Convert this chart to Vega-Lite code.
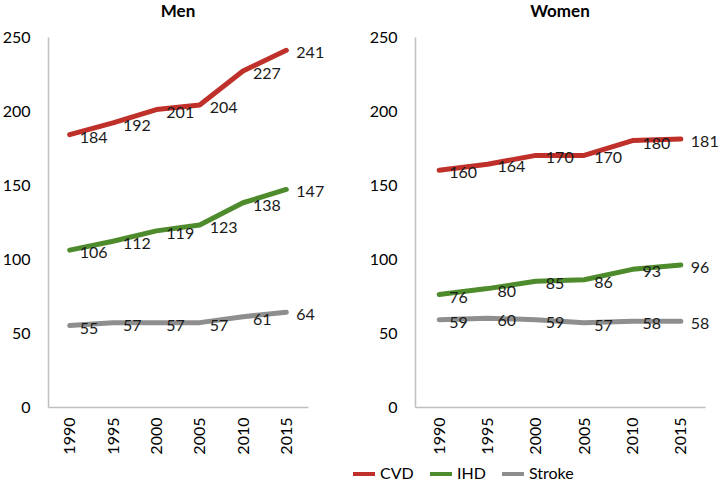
{
  "$schema": "https://vega.github.io/schema/vega-lite/v6.json",
  "padding": {"left": 2, "top": 3, "right": 0, "bottom": 0},
  "background": "white",
  "bounds": "flush",
  "datasets": {
    "rates": [
      {"sex": "Men", "year": "1990", "cause": "CVD", "value": 184},
      {"sex": "Men", "year": "1995", "cause": "CVD", "value": 192},
      {"sex": "Men", "year": "2000", "cause": "CVD", "value": 201},
      {"sex": "Men", "year": "2005", "cause": "CVD", "value": 204},
      {"sex": "Men", "year": "2010", "cause": "CVD", "value": 227},
      {"sex": "Men", "year": "2015", "cause": "CVD", "value": 241},
      {"sex": "Men", "year": "1990", "cause": "IHD", "value": 106},
      {"sex": "Men", "year": "1995", "cause": "IHD", "value": 112},
      {"sex": "Men", "year": "2000", "cause": "IHD", "value": 119},
      {"sex": "Men", "year": "2005", "cause": "IHD", "value": 123},
      {"sex": "Men", "year": "2010", "cause": "IHD", "value": 138},
      {"sex": "Men", "year": "2015", "cause": "IHD", "value": 147},
      {"sex": "Men", "year": "1990", "cause": "Stroke", "value": 55},
      {"sex": "Men", "year": "1995", "cause": "Stroke", "value": 57},
      {"sex": "Men", "year": "2000", "cause": "Stroke", "value": 57},
      {"sex": "Men", "year": "2005", "cause": "Stroke", "value": 57},
      {"sex": "Men", "year": "2010", "cause": "Stroke", "value": 61},
      {"sex": "Men", "year": "2015", "cause": "Stroke", "value": 64},
      {"sex": "Women", "year": "1990", "cause": "CVD", "value": 160},
      {"sex": "Women", "year": "1995", "cause": "CVD", "value": 164},
      {"sex": "Women", "year": "2000", "cause": "CVD", "value": 170},
      {"sex": "Women", "year": "2005", "cause": "CVD", "value": 170},
      {"sex": "Women", "year": "2010", "cause": "CVD", "value": 180},
      {"sex": "Women", "year": "2015", "cause": "CVD", "value": 181},
      {"sex": "Women", "year": "1990", "cause": "IHD", "value": 76},
      {"sex": "Women", "year": "1995", "cause": "IHD", "value": 80},
      {"sex": "Women", "year": "2000", "cause": "IHD", "value": 85},
      {"sex": "Women", "year": "2005", "cause": "IHD", "value": 86},
      {"sex": "Women", "year": "2010", "cause": "IHD", "value": 93},
      {"sex": "Women", "year": "2015", "cause": "IHD", "value": 96},
      {"sex": "Women", "year": "1990", "cause": "Stroke", "value": 59},
      {"sex": "Women", "year": "1995", "cause": "Stroke", "value": 60},
      {"sex": "Women", "year": "2000", "cause": "Stroke", "value": 59},
      {"sex": "Women", "year": "2005", "cause": "Stroke", "value": 57},
      {"sex": "Women", "year": "2010", "cause": "Stroke", "value": 58},
      {"sex": "Women", "year": "2015", "cause": "Stroke", "value": 58}
    ]
  },
  "data": {"name": "rates"},
  "spacing": 107,
  "hconcat": [
    {
      "title": {"text": "Men", "fontSize": 17, "fontWeight": "bold", "font": "Lato", "offset": 8, "color": "#000000"},
      "width": 260,
      "height": 370,
      "transform": [{"filter": "datum.sex === 'Men'"}],
      "encoding": {
        "x": {"field": "year", "type": "ordinal", "scale": {"type": "point", "padding": 0.5}, "axis": {"title": null, "labelAngle": -90}},
        "y": {"field": "value", "type": "quantitative", "scale": {"domain": [0, 250], "nice": false}, "axis": {"title": null, "values": [0, 50, 100, 150, 200, 250]}}
      },
      "layer": [
        {
          "mark": {"type": "line", "strokeWidth": 5, "strokeCap": "round", "strokeJoin": "round"},
          "encoding": {
            "color": {"field": "cause", "type": "nominal", "scale": {"domain": ["CVD", "IHD", "Stroke"], "range": ["#C0302A", "#4E8B2C", "#8E8E8E"]},
              "legend": {"title": null, "orient": "none", "direction": "horizontal", "legendX": 303, "legendY": 424, "symbolType": "stroke", "symbolStrokeWidth": 4, "symbolSize": 484, "labelFontSize": 16, "labelFont": "Lato", "labelColor": "#000000", "columnPadding": 8, "labelOffset": 3}}
          }
        },
        {
          "mark": {"type": "text", "align": "left", "baseline": "middle", "dx": 10, "dy": 3, "fontSize": 16, "font": "Lato", "color": "#1a1a1a"},
          "encoding": {"text": {"field": "value", "type": "quantitative"}}
        }
      ]
    },
    {
      "title": {"text": "Women", "fontSize": 17, "fontWeight": "bold", "font": "Lato", "offset": 8, "color": "#000000"},
      "width": 290,
      "height": 370,
      "transform": [{"filter": "datum.sex === 'Women'"}],
      "encoding": {
        "x": {"field": "year", "type": "ordinal", "scale": {"type": "point", "padding": 0.5}, "axis": {"title": null, "labelAngle": -90}},
        "y": {"field": "value", "type": "quantitative", "scale": {"domain": [0, 250], "nice": false}, "axis": {"title": null, "values": [0, 50, 100, 150, 200, 250]}}
      },
      "layer": [
        {
          "mark": {"type": "line", "strokeWidth": 5, "strokeCap": "round", "strokeJoin": "round"},
          "encoding": {
            "color": {"field": "cause", "type": "nominal", "scale": {"domain": ["CVD", "IHD", "Stroke"], "range": ["#C0302A", "#4E8B2C", "#8E8E8E"]}}
          }
        },
        {
          "mark": {"type": "text", "align": "left", "baseline": "middle", "dx": 10, "dy": 3, "fontSize": 16, "font": "Lato", "color": "#1a1a1a"},
          "encoding": {"text": {"field": "value", "type": "quantitative"}}
        }
      ]
    }
  ],
  "config": {
    "view": {"stroke": null},
    "axis": {"grid": false, "ticks": false, "domainColor": "#BFBFBF", "domainWidth": 1.5, "labelFont": "Lato", "labelFontSize": 16, "labelColor": "#000000"},
    "axisY": {"labelPadding": 18},
    "axisX": {"labelPadding": 10}
  }
}
